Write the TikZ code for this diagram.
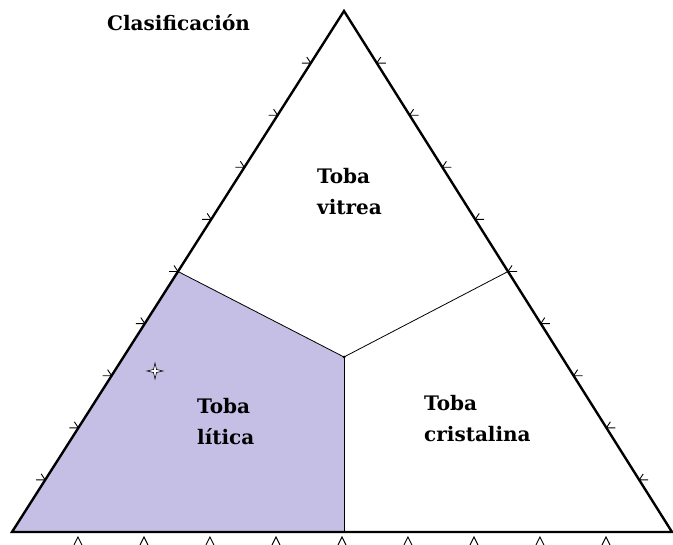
\documentclass[tikz,border=0pt]{standalone}
\usepackage{fontspec}
\usetikzlibrary{calc}
\setmainfont{DejaVu Serif}
\definecolor{lavender}{RGB}{197,191,229}
\begin{document}
\begin{tikzpicture}[x=1pt,y=-1pt,
  edge/.style={line width=2.4pt,line join=miter},
  inner/.style={line width=0.8pt},
  tickmark/.style={line width=0.9pt},
  lbl/.style={inner sep=0pt,align=left,font=\fontsize{20}{31}\selectfont\bfseries}]
\useasboundingbox (0,0) rectangle (673,545);
\coordinate (A) at (12,532);
\coordinate (B) at (672,532);
\coordinate (C) at (344,11);
\coordinate (L) at ($(A)!0.5!(C)$);
\coordinate (R) at ($(B)!0.5!(C)$);
\coordinate (M) at (344,357);
\coordinate (D) at (344,532);
\fill[lavender] (A) -- (L) -- (M) -- (D) -- cycle;
\draw[inner] (L) -- (M) -- (R);
\draw[inner] (M) -- (D);
\fill (M) circle (1.5);
\draw[edge] (A) -- (B) -- (C) -- cycle;
\foreach \k in {1,...,9}{
  \coordinate (bt) at ($(A)!\k/10!(B)$);
  \draw[tickmark] ($(bt)+(-4,13)$) -- ($(bt)+(0,5)$) -- ($(bt)+(4,13)$);
  \coordinate (lt) at ($(A)!\k/10!(C)$);
  \draw[tickmark] ($(lt)+(-9,0)$) -- (lt) -- ($(lt)+(-4,-6)$);
  \coordinate (rt) at ($(B)!\k/10!(C)$);
  \draw[tickmark] ($(rt)+(9,0)$) -- (rt) -- ($(rt)+(4,-6)$);
}
\draw[fill=white,line width=0.6pt] (155,363) -- (156.5,369.5) -- (163,371) -- (156.5,372.5) -- (155,379) -- (153.5,372.5) -- (147,371) -- (153.5,369.5) -- cycle;
\node[lbl,anchor=north west] (title) at (107,14) {Clasificación};
\node[lbl,anchor=north west] (vitrea) at (317,168) {Toba\\vitrea};
\node[lbl,anchor=north west] (litica) at (197,398) {Toba\\lítica};
\node[lbl,anchor=north west] (cristalina) at (424,395) {Toba\\cristalina};
\end{tikzpicture}
\end{document}
